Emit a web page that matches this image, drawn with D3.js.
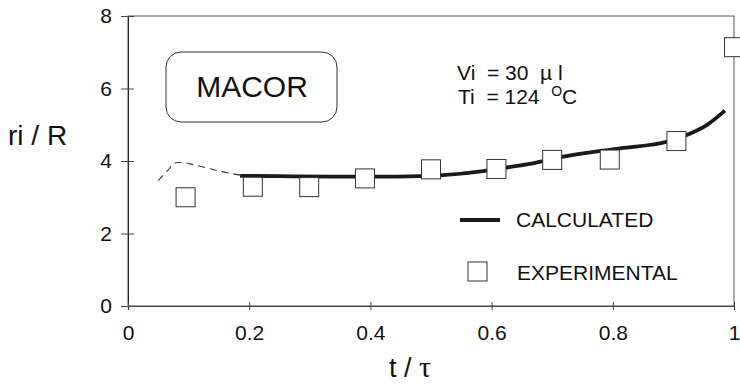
<!DOCTYPE html>
<html>
<head>
<meta charset="utf-8">
<script src="https://cdn.jsdelivr.net/npm/d3@7"></script>
<style>
  body { margin: 0; background: #fff; }
  text { font-family: "Liberation Sans", Arial, sans-serif; fill: #111; }
</style>
</head>
<body>
<div id="chart"></div>
<script>
// experimental points
const expT = [0.095, 0.206, 0.299, 0.391, 0.500, 0.608, 0.700, 0.795, 0.905, 1.0];
const expV = [3.0, 3.29, 3.28, 3.52, 3.77, 3.78, 4.03, 4.04, 4.55, 7.14];

// calculated curve (solid part)
const calcT = [0.185, 0.25, 0.333, 0.443, 0.52, 0.586, 0.625, 0.663, 0.718, 0.812, 0.889, 0.922, 0.955, 0.985];
const calcV = [3.59, 3.58, 3.57, 3.57, 3.61, 3.72, 3.82, 3.92, 4.12, 4.35, 4.53, 4.72, 4.99, 5.39];

// calculated curve (dashed early part)
const dashT = [0.05, 0.066, 0.078, 0.09, 0.102, 0.157, 0.185];
const dashV = [3.46, 3.75, 3.95, 3.96, 3.92, 3.70, 3.61];

const xTicks = [0, 0.2, 0.4, 0.6, 0.8, 1];
const yTicks = [0, 2, 4, 6, 8];

const margin = { top: 16, right: 6, bottom: 83, left: 128 },
      width = 740 - margin.left - margin.right,
      height = 389 - margin.top - margin.bottom;

const svg = d3.select("#chart")
  .append("svg")
    .attr("width", 740)
    .attr("height", 389)
  .append("g")
    .attr("transform", "translate(" + margin.left + "," + margin.top + ")");

const x = d3.scaleLinear().domain([0, 1]).range([0, width]);
const y = d3.scaleLinear().domain([0, 8]).range([height, 0]);

// frame
svg.append("rect")
    .attr("x", 0).attr("y", 0)
    .attr("width", width).attr("height", height)
    .attr("fill", "none")
    .attr("stroke", "#555")
    .attr("stroke-width", 1);

// axes
const yAxis = svg.append("g")
    .call(d3.axisLeft(y).tickValues(yTicks).tickSize(7).tickPadding(9).tickFormat(d3.format("d")));
yAxis.select(".domain").attr("stroke", "#222");
yAxis.selectAll(".tick line").attr("x1", 6).attr("stroke", "#444");
yAxis.selectAll("text")
    .style("font-size", "21px")
    .style("font-family", "Liberation Sans, Arial, sans-serif");

const xAxis = svg.append("g")
    .attr("transform", `translate(0,${height})`)
    .call(d3.axisBottom(x).tickValues(xTicks).tickSize(4).tickPadding(15).tickFormat(d3.format("")));
xAxis.select(".domain").attr("stroke", "#444");
xAxis.selectAll(".tick line").attr("y1", -4).attr("stroke", "#444");
xAxis.selectAll("text")
    .style("font-size", "21px")
    .style("font-family", "Liberation Sans, Arial, sans-serif");

// axis titles
svg.append("text")
    .attr("x", 8 - margin.left)
    .attr("y", 145 - margin.top)
    .style("font-size", "28px")
    .attr("xml:space", "preserve")
    .text("ri / R");

const xt = svg.append("text")
    .attr("x", 410 - margin.left)
    .attr("y", 377 - margin.top)
    .attr("text-anchor", "middle")
    .style("font-size", "27px");
xt.append("tspan").text("t / ");
xt.append("tspan").style("font-family", "Liberation Serif, serif").style("font-size", "30px").text("τ");

// curves
const line = d3.line()
    .x(d => x(d[0]))
    .y(d => y(d[1]))
    .curve(d3.curveMonotoneX);

svg.append("path")
    .datum(dashT.map((t, i) => [t, dashV[i]]))
    .attr("d", line)
    .attr("fill", "none")
    .attr("stroke", "#333")
    .attr("stroke-width", 1.1)
    .attr("stroke-dasharray", "7,5");

svg.append("path")
    .datum(calcT.map((t, i) => [t, calcV[i]]))
    .attr("d", line)
    .attr("fill", "none")
    .attr("stroke", "#1a1a1a")
    .attr("stroke-width", 3.8);

// experimental squares
const sq = 19;
svg.selectAll(".pt")
  .data(expT.map((t, i) => [t, expV[i]]))
  .join("rect")
    .attr("class", "pt")
    .attr("x", d => x(d[0]) - sq / 2)
    .attr("y", d => y(d[1]) - sq / 2)
    .attr("width", sq)
    .attr("height", sq)
    .attr("fill", "#fff")
    .attr("stroke", "#333")
    .attr("stroke-width", 1);

// MACOR label box
svg.append("rect")
    .attr("x", 166 - margin.left)
    .attr("y", 52 - margin.top)
    .attr("width", 171)
    .attr("height", 70)
    .attr("rx", 15)
    .attr("fill", "none")
    .attr("stroke", "#333")
    .attr("stroke-width", 1);

svg.append("text")
    .attr("x", 252 - margin.left)
    .attr("y", 97 - margin.top)
    .attr("text-anchor", "middle")
    .style("font-size", "30px")
    .text("MACOR");

// conditions
svg.append("text")
    .attr("x", 457 - margin.left)
    .attr("y", 80 - margin.top)
    .style("font-size", "21px")
    .attr("xml:space", "preserve")
    .text("Vi  = 30  µ l");

const ti = svg.append("text")
    .attr("x", 458 - margin.left)
    .attr("y", 104 - margin.top)
    .style("font-size", "21px")
    .attr("xml:space", "preserve");
ti.append("tspan").text("Ti  = 124  ");
ti.append("tspan").attr("dy", -8).style("font-size", "14px").text("O");
ti.append("tspan").attr("dy", 8).text("C");

// legend
const legend = svg.append("g");
legend.append("line")
    .attr("x1", 460 - margin.left).attr("x2", 500 - margin.left)
    .attr("y1", 220 - margin.top).attr("y2", 220 - margin.top)
    .attr("stroke", "#1a1a1a")
    .attr("stroke-width", 3.8);
legend.append("text")
    .attr("x", 516 - margin.left)
    .attr("y", 227 - margin.top)
    .style("font-size", "21px")
    .text("CALCULATED");
legend.append("rect")
    .attr("x", 468 - margin.left).attr("y", 262 - margin.top)
    .attr("width", sq).attr("height", sq)
    .attr("fill", "#fff")
    .attr("stroke", "#333");
legend.append("text")
    .attr("x", 517 - margin.left)
    .attr("y", 280 - margin.top)
    .style("font-size", "21px")
    .text("EXPERIMENTAL");
</script>
</body>
</html>
